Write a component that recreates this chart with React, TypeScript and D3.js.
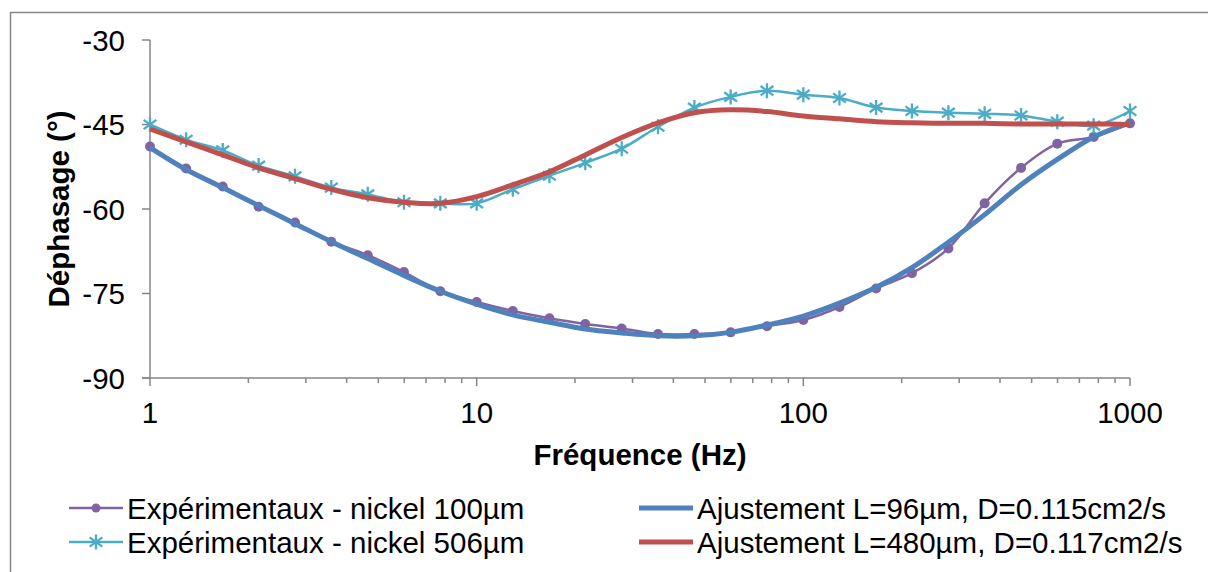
import React from "react";
import * as d3 from "d3";

const frequencies = [1, 1.29, 1.67, 2.15, 2.78, 3.59, 4.64, 5.99, 7.74, 10, 12.9, 16.7, 21.5, 27.8, 35.9, 46.4, 59.9, 77.4, 100, 129, 167, 215, 278, 359, 464, 599, 774, 1000];

const nickel100 = [-48.9, -52.8, -56.0, -59.6, -62.4, -65.8, -68.2, -71.2, -74.6, -76.5, -78.1, -79.4, -80.4, -81.2, -82.2, -82.2, -81.9, -80.8, -79.7, -77.4, -74.1, -71.4, -67.0, -59.0, -52.7, -48.4, -47.2, -44.8];
const nickel506 = [-45.0, -47.7, -49.6, -52.3, -54.2, -56.2, -57.4, -58.8, -59.0, -59.0, -56.5, -54.1, -51.8, -49.3, -45.4, -42.0, -40.1, -39.0, -39.7, -40.3, -42.0, -42.6, -42.9, -43.1, -43.4, -44.5, -45.2, -42.6];
const fit96 = [-49.1, -53.0, -56.2, -59.4, -62.6, -65.8, -68.8, -71.8, -74.6, -76.9, -78.8, -80.1, -81.3, -82.0, -82.5, -82.5, -81.9, -80.6, -79.0, -76.7, -73.9, -70.4, -65.9, -61.0, -55.7, -51.2, -47.2, -44.7];
const fit480 = [-45.8, -48.1, -50.4, -52.7, -54.6, -56.5, -58.0, -58.8, -59.0, -57.8, -55.7, -53.4, -50.4, -47.3, -44.7, -42.9, -42.4, -42.7, -43.5, -44.0, -44.5, -44.7, -44.8, -44.8, -44.9, -44.9, -44.9, -45.0];

const xTicks = [1, 10, 100, 1000];
const yTicks = [-30, -45, -60, -75, -90];

const legendLabels = [
  "Expérimentaux - nickel 100µm",
  "Ajustement L=96µm, D=0.115cm2/s",
  "Expérimentaux - nickel 506µm",
  "Ajustement L=480µm, D=0.117cm2/s",
];

const PURPLE = "#8064A2";
const CYAN = "#4BACC6";
const BLUE = "#4F81BD";
const RED = "#C0504D";
const AXIS = "#868686";
const FONT = "'Liberation Sans', Arial, sans-serif";
const FS = 29.5;

const x = d3.scaleLog().domain([1, 1000]).range([150, 1130]);
const y = d3.scaleLinear().domain([-90, -30]).range([378, 40]);

function seriesPath(vals: number[]) {
  const line = d3
    .line<number>()
    .x((_, i) => x(frequencies[i]))
    .y((v) => y(v))
    .curve(d3.curveCatmullRom.alpha(0.5));
  return line(vals) || "";
}

function Star({ cx, cy, r = 7.5 }: { cx: number; cy: number; r?: number }) {
  const dx = r * 0.85;
  const dy = r * 0.62;
  return (
    <path
      d={`M${cx},${cy - r}L${cx},${cy + r}M${cx - dx},${cy - dy}L${cx + dx},${cy + dy}M${cx - dx},${cy + dy}L${cx + dx},${cy - dy}`}
      stroke={CYAN}
      strokeWidth={2.3}
      fill="none"
    />
  );
}

export default function App() {
  const minorTicks: number[] = [];
  for (const dec of [1, 10, 100]) {
    for (let m = 2; m <= 9; m++) minorTicks.push(dec * m);
  }

  const legendItems = [
    { col: 0, row: 0, color: PURPLE, width: 2.5, marker: "circle", label: legendLabels[0] },
    { col: 1, row: 0, color: BLUE, width: 5, marker: "none", label: legendLabels[1] },
    { col: 0, row: 1, color: CYAN, width: 2.5, marker: "star", label: legendLabels[2] },
    { col: 1, row: 1, color: RED, width: 5, marker: "none", label: legendLabels[3] },
  ];
  const legendColX = [69, 639];
  const legendRowY = [508, 542];

  return (
    <svg
      width={1208}
      height={572}
      style={{ position: "absolute", left: 0, top: 0, background: "#fff" }}
      fontFamily={FONT}
    >
      <rect x={0} y={0} width={1208} height={572} fill="#fff" />
      <rect x={10.5} y={12.5} width={1300} height={700} fill="none" stroke={AXIS} strokeWidth={1.5} />

      {/* Axes */}
      <line x1={150} x2={150} y1={40} y2={378} stroke={AXIS} strokeWidth={1.5} />
      <line x1={142} x2={1130} y1={378} y2={378} stroke={AXIS} strokeWidth={1.5} />
      {yTicks.map((t) => (
        <g key={`yt${t}`}>
          <line x1={142} x2={150} y1={y(t)} y2={y(t)} stroke={AXIS} strokeWidth={1.5} />
          <text x={125} y={y(t) + 10.5} textAnchor="end" fontSize={FS} fill="#000">
            {t}
          </text>
        </g>
      ))}
      {xTicks.map((t) => (
        <g key={`xt${t}`}>
          <line x1={x(t)} x2={x(t)} y1={378} y2={386} stroke={AXIS} strokeWidth={1.5} />
          <text x={x(t)} y={423} textAnchor="middle" fontSize={FS} fill="#000">
            {t}
          </text>
        </g>
      ))}
      {minorTicks.map((t) => (
        <line key={`mt${t}`} x1={x(t)} x2={x(t)} y1={378} y2={383} stroke={AXIS} strokeWidth={1.5} />
      ))}

      {/* Axis titles */}
      <text x={640} y={465} textAnchor="middle" fontSize={FS} fontWeight="bold" fill="#000">
        Fréquence (Hz)
      </text>
      <text
        transform={`translate(69,209) rotate(-90)`}
        textAnchor="middle"
        fontSize={FS}
        fontWeight="bold"
        fill="#000"
      >
        Déphasage (°)
      </text>

      {/* Series: purple, blue, cyan, red */}
      <path d={seriesPath(nickel100)} fill="none" stroke={PURPLE} strokeWidth={2.5} />
      {nickel100.map((v, i) => (
        <circle key={`p${i}`} cx={x(frequencies[i])} cy={y(v)} r={5} fill={PURPLE} />
      ))}
      <path d={seriesPath(fit96)} fill="none" stroke={BLUE} strokeWidth={5} />
      <path d={seriesPath(nickel506)} fill="none" stroke={CYAN} strokeWidth={2.5} />
      {nickel506.map((v, i) => (
        <Star key={`c${i}`} cx={x(frequencies[i])} cy={y(v)} />
      ))}
      <path d={seriesPath(fit480)} fill="none" stroke={RED} strokeWidth={5} />

      {/* Legend */}
      {legendItems.map((it, i) => {
        const lx = legendColX[it.col];
        const ly = legendRowY[it.row];
        return (
          <g key={`lg${i}`}>
            <line x1={lx} x2={lx + 54} y1={ly} y2={ly} stroke={it.color} strokeWidth={it.width} />
            {it.marker === "circle" && <circle cx={lx + 27} cy={ly} r={4.5} fill={it.color} />}
            {it.marker === "star" && <Star cx={lx + 27} cy={ly} />}
            <text x={lx + 58} y={ly + 10.5} fontSize={FS} fill="#000">
              {it.label}
            </text>
          </g>
        );
      })}
    </svg>
  );
}
